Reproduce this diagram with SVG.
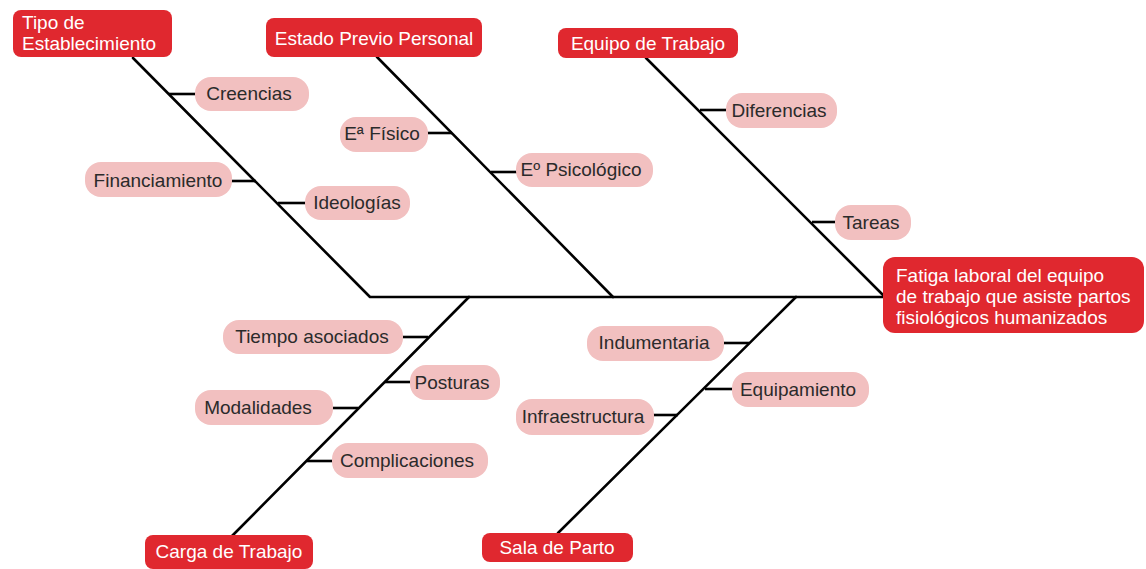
<svg xmlns="http://www.w3.org/2000/svg" width="1146" height="569" viewBox="0 0 1146 569">
  <style>
    .cat rect { fill: #E0282F; }
    .cat text { fill: #FFFFFF; font-family: "Liberation Sans", Arial, sans-serif; font-size: 19px; }
    .sub rect { fill: #F2C0C0; }
    .sub text { fill: #2B2B2B; font-family: "Liberation Sans", Arial, sans-serif; font-size: 19px; text-anchor: middle; }
    .bone { stroke: #000000; stroke-width: 2.6; fill: none; stroke-linecap: round; stroke-linejoin: round; }
    .stub { stroke: #000000; stroke-width: 2.6; fill: none; }
  </style>
  <rect width="1146" height="569" fill="#FFFFFF"/>

  <!-- skeleton: spine, main bones and twigs -->
  <g id="connectors">
    <path class="bone" d="M133 58 L370 297 L883 297"/>
    <path class="bone" d="M377 57 L613 297"/>
    <path class="bone" d="M646 58 L883 295"/>
    <path class="bone" d="M469 297 L231 537"/>
    <path class="bone" d="M796 297 L558 533"/>
    <!-- twigs -->
    <line class="stub" x1="169" y1="94" x2="196" y2="94"/>
    <line class="stub" x1="231" y1="181" x2="256" y2="181"/>
    <line class="stub" x1="278" y1="203" x2="306" y2="203"/>
    <line class="stub" x1="427" y1="133" x2="452" y2="133"/>
    <line class="stub" x1="491" y1="172" x2="517" y2="172"/>
    <line class="stub" x1="700" y1="110" x2="728" y2="110"/>
    <line class="stub" x1="812" y1="222" x2="836" y2="222"/>
    <line class="stub" x1="402" y1="337" x2="428" y2="337"/>
    <line class="stub" x1="385" y1="382" x2="411" y2="382"/>
    <line class="stub" x1="332" y1="408" x2="358" y2="408"/>
    <line class="stub" x1="307" y1="461" x2="333" y2="461"/>
    <line class="stub" x1="723" y1="343" x2="749" y2="343"/>
    <line class="stub" x1="705" y1="389" x2="733" y2="389"/>
    <line class="stub" x1="653" y1="415" x2="678" y2="415"/>
  </g>

  <!-- main categories -->
  <g id="tipo-establecimiento" class="cat">
    <rect x="13" y="10" width="159" height="47" rx="8"/>
    <text x="22" y="29">Tipo de</text>
    <text x="22" y="50">Establecimiento</text>
  </g>
  <g id="estado-previo" class="cat">
    <rect x="266" y="18" width="216" height="39" rx="8"/>
    <text x="374" y="45" text-anchor="middle">Estado Previo Personal</text>
  </g>
  <g id="equipo-trabajo" class="cat">
    <rect x="558" y="28" width="180" height="30" rx="8"/>
    <text x="648" y="50" text-anchor="middle">Equipo de Trabajo</text>
  </g>
  <g id="carga-trabajo" class="cat">
    <rect x="145" y="535" width="168" height="34" rx="8"/>
    <text x="229" y="558" text-anchor="middle">Carga de Trabajo</text>
  </g>
  <g id="sala-parto" class="cat">
    <rect x="482" y="533" width="151" height="29" rx="8"/>
    <text x="557" y="554" text-anchor="middle">Sala de Parto</text>
  </g>
  <g id="efecto" class="cat">
    <rect x="883" y="257" width="261" height="76" rx="12"/>
    <text x="896" y="282">Fatiga laboral del equipo</text>
    <text x="896" y="303">de trabajo que asiste partos</text>
    <text x="896" y="324">fisiológicos humanizados</text>
  </g>

  <!-- sub-causes -->
  <g id="creencias" class="sub">
    <rect x="195" y="77" width="114" height="34" rx="16"/>
    <text x="249" y="100">Creencias</text>
  </g>
  <g id="financiamiento" class="sub">
    <rect x="85" y="162" width="147" height="35" rx="16"/>
    <text x="158" y="187">Financiamiento</text>
  </g>
  <g id="ideologias" class="sub">
    <rect x="305" y="186" width="105" height="34" rx="16"/>
    <text x="357" y="209">Ideologías</text>
  </g>
  <g id="e-fisico" class="sub">
    <rect x="340" y="117" width="88" height="35" rx="16"/>
    <text x="382" y="140">Eª Físico</text>
  </g>
  <g id="e-psicologico" class="sub">
    <rect x="516" y="153" width="137" height="34" rx="16"/>
    <text x="581" y="176">Eº Psicológico</text>
  </g>
  <g id="diferencias" class="sub">
    <rect x="726" y="93" width="111" height="35" rx="16"/>
    <text x="779" y="117">Diferencias</text>
  </g>
  <g id="tareas" class="sub">
    <rect x="835" y="205" width="76" height="35" rx="16"/>
    <text x="871" y="229">Tareas</text>
  </g>
  <g id="tiempo-asociados" class="sub">
    <rect x="223" y="320" width="180" height="34" rx="16"/>
    <text x="312" y="343">Tiempo asociados</text>
  </g>
  <g id="posturas" class="sub">
    <rect x="410" y="365" width="90" height="35" rx="16"/>
    <text x="452" y="389">Posturas</text>
  </g>
  <g id="modalidades" class="sub">
    <rect x="195" y="390" width="138" height="35" rx="16"/>
    <text x="258" y="414">Modalidades</text>
  </g>
  <g id="complicaciones" class="sub">
    <rect x="332" y="443" width="156" height="35" rx="16"/>
    <text x="407" y="467">Complicaciones</text>
  </g>
  <g id="indumentaria" class="sub">
    <rect x="587" y="326" width="137" height="35" rx="16"/>
    <text x="654" y="349">Indumentaria</text>
  </g>
  <g id="equipamiento" class="sub">
    <rect x="732" y="372" width="137" height="35" rx="16"/>
    <text x="798" y="396">Equipamiento</text>
  </g>
  <g id="infraestructura" class="sub">
    <rect x="516" y="399" width="138" height="36" rx="16"/>
    <text x="583" y="423">Infraestructura</text>
  </g>
</svg>
